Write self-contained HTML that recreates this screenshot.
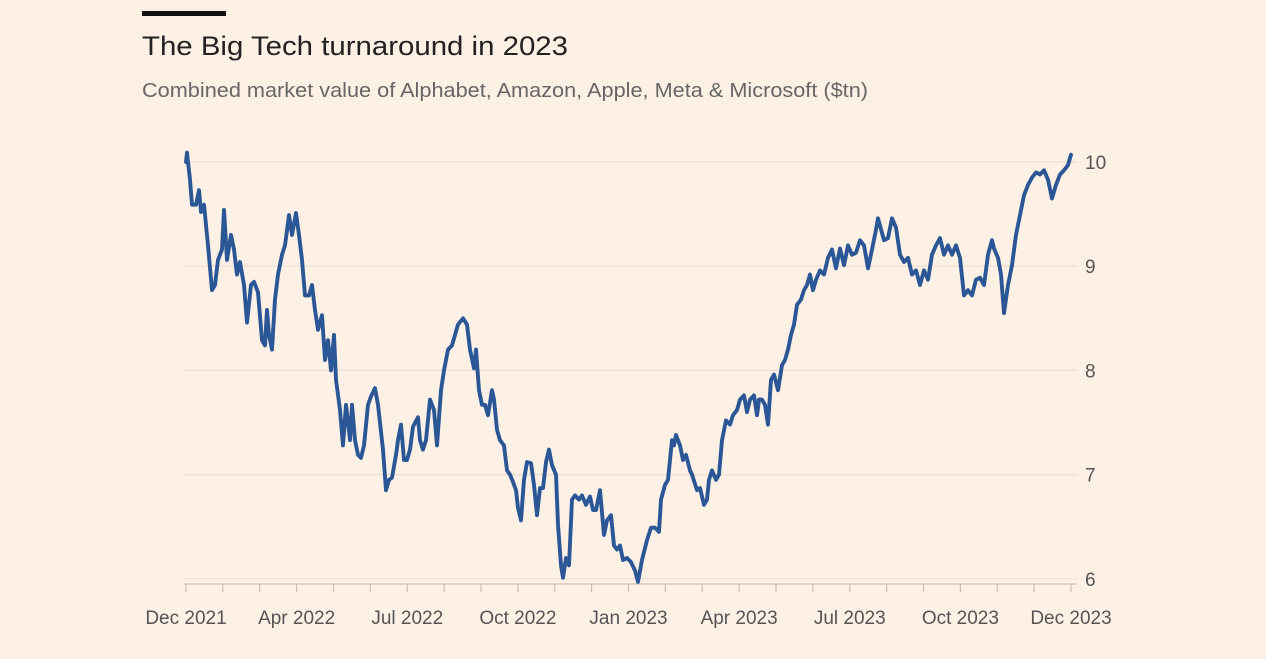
<!DOCTYPE html>
<html><head><meta charset="utf-8"><style>
body{margin:0;background:#fdf1e6;width:1266px;height:654px;overflow:hidden;font-family:"Liberation Sans",sans-serif}
</style></head><body>
<svg width="1266" height="654">
<rect x="0" y="0" width="1266" height="654" fill="#fdf1e6"/>
<rect x="142" y="11" width="84" height="5" fill="#111"/>
<text x="142" y="55" font-size="27" fill="#222" textLength="426" lengthAdjust="spacingAndGlyphs">The Big Tech turnaround in 2023</text>
<text x="142" y="97" font-size="20" fill="#666" textLength="726" lengthAdjust="spacingAndGlyphs">Combined market value of Alphabet, Amazon, Apple, Meta &amp; Microsoft ($tn)</text>
<g id="grid"></g><g id="axis"></g><g id="series"></g>
</svg>
<script>
const yTicks=[6,7,8,9,10];
const xLabels=["Dec 2021","Apr 2022","Jul 2022","Oct 2022","Jan 2023","Apr 2023","Jul 2023","Oct 2023","Dec 2023"];
const xLabelMonths=[0,3,6,9,12,15,18,21,24];
// time in plot units: 0 = start (end Dec 2021), 885 = end Dec 2023
const times=[0,1,4,6,10,13,15,18,22,26,29,32,36,38,41,45,48,51,54,58,61,65,68,72,76,79,81,83,86,89,92,96,99,103,106,110,113,116,119,123,126,129,132,136,139,142,145,148,150,154,157,160,164,166,169,172,175,178,182,185,189,192,197,200,203,206,210,212,215,218,221,224,227,232,234,237,240,244,248,251,255,258,260,262,266,269,272,277,281,284,288,290,293,296,299,302,306,308,311,314,318,321,324,327,330,332,335,338,341,345,348,351,354,357,360,363,366,370,372,375,377,380,383,386,389,393,396,400,404,407,410,414,418,421,425,428,431,434,437,441,445,449,452,456,461,465,469,473,475,479,482,486,488,490,494,497,500,504,506,511,514,518,521,523,526,530,533,536,540,544,547,551,554,558,561,564,568,571,573,576,579,582,585,588,592,596,599,602,605,608,611,615,618,621,624,627,630,634,638,642,646,650,654,658,662,666,670,674,678,682,686,690,692,698,702,706,710,714,718,722,726,730,734,738,742,746,750,754,758,762,766,770,774,778,782,786,790,794,798,802,806,808,812,815,818,822,826,830,834,838,842,846,850,854,858,862,866,870,874,878,882,885];
const values=[10.00,10.09,9.83,9.59,9.59,9.73,9.52,9.59,9.20,8.77,8.82,9.06,9.16,9.54,9.06,9.30,9.16,8.92,9.04,8.82,8.46,8.82,8.85,8.75,8.29,8.24,8.58,8.34,8.20,8.68,8.92,9.11,9.20,9.49,9.30,9.51,9.30,9.06,8.72,8.72,8.82,8.58,8.39,8.53,8.10,8.29,8.00,8.34,7.91,7.62,7.28,7.67,7.33,7.67,7.33,7.19,7.16,7.28,7.67,7.75,7.83,7.67,7.24,6.85,6.95,6.97,7.19,7.33,7.48,7.14,7.14,7.24,7.46,7.55,7.33,7.24,7.33,7.72,7.62,7.28,7.81,8.00,8.10,8.20,8.24,8.34,8.44,8.50,8.44,8.20,8.02,8.20,7.81,7.67,7.67,7.57,7.81,7.72,7.43,7.33,7.28,7.04,7.00,6.93,6.85,6.68,6.56,6.95,7.12,7.11,6.90,6.61,6.87,6.87,7.12,7.24,7.09,7.00,6.52,6.13,6.01,6.20,6.13,6.76,6.80,6.76,6.80,6.71,6.79,6.66,6.66,6.85,6.42,6.56,6.61,6.32,6.28,6.32,6.18,6.20,6.16,6.08,5.97,6.18,6.37,6.49,6.49,6.45,6.76,6.90,6.95,7.33,7.28,7.38,7.28,7.14,7.19,7.04,7.00,6.85,6.87,6.71,6.76,6.95,7.04,6.95,7.00,7.33,7.52,7.48,7.57,7.62,7.72,7.76,7.60,7.72,7.76,7.57,7.72,7.72,7.67,7.48,7.91,7.96,7.81,8.05,8.10,8.20,8.34,8.44,8.63,8.68,8.77,8.82,8.92,8.77,8.87,8.96,8.92,9.08,9.16,8.98,9.17,9.01,9.20,9.11,9.13,9.25,9.20,8.98,9.16,9.35,9.46,9.25,9.27,9.46,9.37,9.11,9.04,9.08,8.92,8.96,8.82,8.96,8.87,9.11,9.20,9.27,9.11,9.20,9.11,9.20,9.08,8.72,8.77,8.72,8.87,8.89,8.82,9.11,9.25,9.17,9.08,8.92,8.55,8.82,9.01,9.30,9.49,9.68,9.78,9.85,9.90,9.88,9.92,9.83,9.65,9.78,9.88,9.92,9.97,10.07];
const NS='http://www.w3.org/2000/svg';
const x0=186,x1=1071,y10=162,yUnit=104.2;
const xS=t=>x0+t*(x1-x0)/885;
const xM=m=>x0+m*(x1-x0)/24;
const yS=v=>y10+(10-v)*yUnit;
const grid=document.getElementById('grid'),axis=document.getElementById('axis'),series=document.getElementById('series');
function mk(tag,attrs,parent){const e=document.createElementNS(NS,tag);for(const k in attrs)e.setAttribute(k,attrs[k]);parent.appendChild(e);return e;}
yTicks.forEach(v=>{
 const l=mk('line',{x1:184,x2:1077,y1:yS(v),y2:yS(v),stroke:'#eadfd4','stroke-width':1.2},grid);
 
 
 const t=mk('text',{x:1085,y:yS(v)+7,'font-size':19,fill:'#555'},axis);
 t.textContent=v;
 
 
});
const base=mk('line',{x1:184,x2:1077,y1:584,y2:584,stroke:'#c9bfb5','stroke-width':1.2},axis);


for(let m=0;m<=24;m++){
 const tk=mk('line',{x1:xM(m),x2:xM(m),y1:584,y2:592,stroke:'#c9bfb5','stroke-width':1.2},axis);
 
 
}
xLabels.forEach((s,i)=>{
 const t=mk('text',{x:xM(xLabelMonths[i]),y:624,'font-size':19,fill:'#555','text-anchor':'middle'},axis);
 t.textContent=s;
 
 
});
const d=times.map((t,i)=>(i?'L':'M')+xS(t).toFixed(1)+','+yS(values[i]).toFixed(1)).join('');
const p=mk('path',{d:d,fill:'none',stroke:'#2b5797','stroke-width':3.9,'stroke-linejoin':'round','stroke-linecap':'round'},series);


</script>
</body></html>
